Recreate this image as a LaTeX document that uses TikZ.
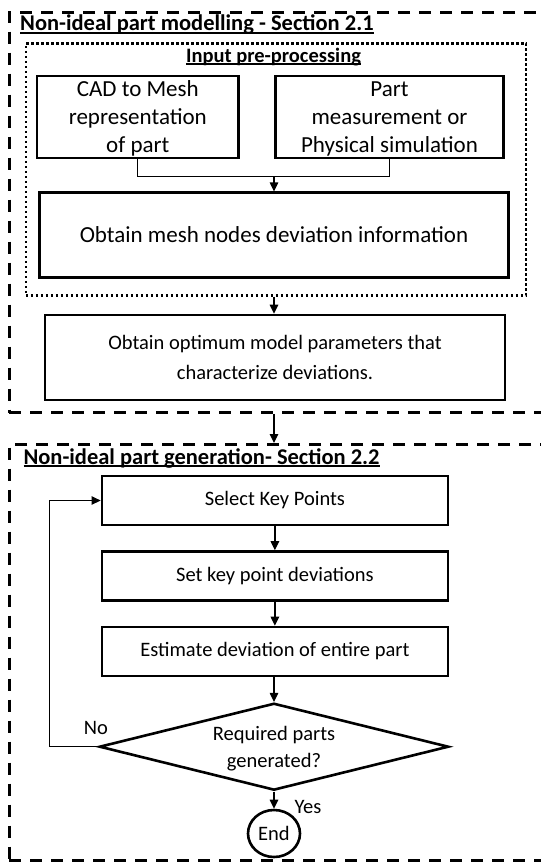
\documentclass[tikz,border=0pt]{standalone}
\usepackage{fontspec}
\setmainfont{Carlito}
\usetikzlibrary{arrows.meta,shapes.geometric}

% underline with a fixed rule below the baseline
\newcommand{\ulbar}[1]{\setbox0\hbox{#1}\rlap{\rule[-3.2pt]{\wd0}{1.8pt}}\box0}
\newcommand{\fbig}{\fontsize{23}{28}\selectfont}
\newcommand{\fnorm}{\fontsize{20.5}{30}\selectfont}
\newcommand{\fdia}{\fontsize{20.5}{26.5}\selectfont}
\newcommand{\ftitle}{\fontsize{22.5}{27}\selectfont\bfseries}
\newcommand{\fsub}{\fontsize{20.5}{25}\selectfont\bfseries}

\begin{document}
\begin{tikzpicture}[x=1pt,y=-1pt,
  sect/.style={draw, line width=3pt, dash pattern=on 12pt off 9pt, inner sep=0pt, anchor=north west},
  grp/.style={draw, line width=2.4pt, dash pattern=on 2.4pt off 2.6pt, inner sep=0pt, anchor=north west},
  proc/.style={draw, line width=2.6pt, rectangle, inner sep=0pt, align=center},
  conn/.style={line width=1.2pt},
  flow/.style={conn, -{Triangle[length=9pt,width=8.5pt]}},
  lbl/.style={inner sep=0pt, font=\fnorm}]
\useasboundingbox (0,0) rectangle (541,863);
\clip (0,0) rectangle (541,863);

% ---- Section 2.1: modelling ----
\node[sect, minimum width=620pt, minimum height=400pt] (sec1) at (7.5,11) {};
\node[anchor=base west, inner sep=0pt, font=\ftitle] (t1) at (20,30.5)
  {\ulbar{Non-ideal part modelling - Section 2.1}};

\node[grp, minimum width=500.3pt, minimum height=252pt] (pre) at (24.7,42.3) {};
\node[anchor=base, inner sep=0pt, font=\fsub] (prelbl) at (273.5,62)
  {\ulbar{Input pre-processing}};

\node[proc, font=\fbig, text depth=0pt, minimum width=201.7pt, minimum height=82pt] (cad) at (137.8,117)
  {CAD to Mesh\\representation\\of part};
\node[proc, font=\fbig, text depth=0pt, minimum width=227.7pt, minimum height=82pt] (part) at (389.5,117)
  {Part\\measurement or\\Physical simulation};
\node[proc, font=\fbig, minimum width=469.2pt, minimum height=84.6pt] (mesh) at (274,235)
  {Obtain mesh nodes deviation information};
\node[proc, font=\fnorm, minimum width=460pt, minimum height=85pt] (opt) at (275,357.5)
  {Obtain optimum model parameters that\\characterize deviations.};

\coordinate (join) at (274,176.7);
\draw[conn] (cad.south) |- (join) -| (part.south);
\draw[flow] (join) -- (mesh.north);
\draw[flow] (mesh.south |- pre.south) -- (mesh.south |- opt.north);

% ---- Section 2.2: generation ----
\node[sect, minimum width=620pt, minimum height=416pt] (sec2) at (7.5,443) {};
\node[anchor=base west, inner sep=0pt, font=\ftitle] (t2) at (23.3,464)
  {\ulbar{Non-ideal part generation- Section 2.2}};

\draw[flow] (mesh.south |- sec1.south) -- (mesh.south |- sec2.north);

\node[proc, font=\fnorm, minimum width=346pt, minimum height=49pt] (sel) at (274.9,500.5)
  {Select Key Points};
\node[proc, font=\fnorm, minimum width=346pt, minimum height=49pt] (set) at (274.9,576)
  {Set key point deviations};
\node[proc, font=\fnorm, minimum width=346pt, minimum height=49pt] (est) at (274.9,651.5)
  {Estimate deviation of entire part};
\node[draw, diamond, line width=2.6pt, inner sep=0pt, aspect=4, align=center, font=\fdia,
  text depth=0pt, minimum width=349.3pt, minimum height=87pt] (dia) at (274,746.7)
  {Required parts\\generated?};
\node[draw, ellipse, line width=2.6pt, inner sep=0pt, font=\fnorm,
  minimum width=52pt, minimum height=47pt] (end) at (274,833.5) {End};

\draw[flow] (sel.south -| set.north) -- (set.north);
\draw[flow] (set.south) -- (est.north);
\draw[flow] (est.south -| dia.north) -- (dia.north);
\draw[flow] (dia.south) -- (end.north);
\draw[flow] (dia.west) -- ++(-48.6,0) |- (sel.west);

\node[lbl] (no) at (96,728.3) {No};
\node[lbl] (yes) at (308,806.7) {Yes};
\end{tikzpicture}
\end{document}
